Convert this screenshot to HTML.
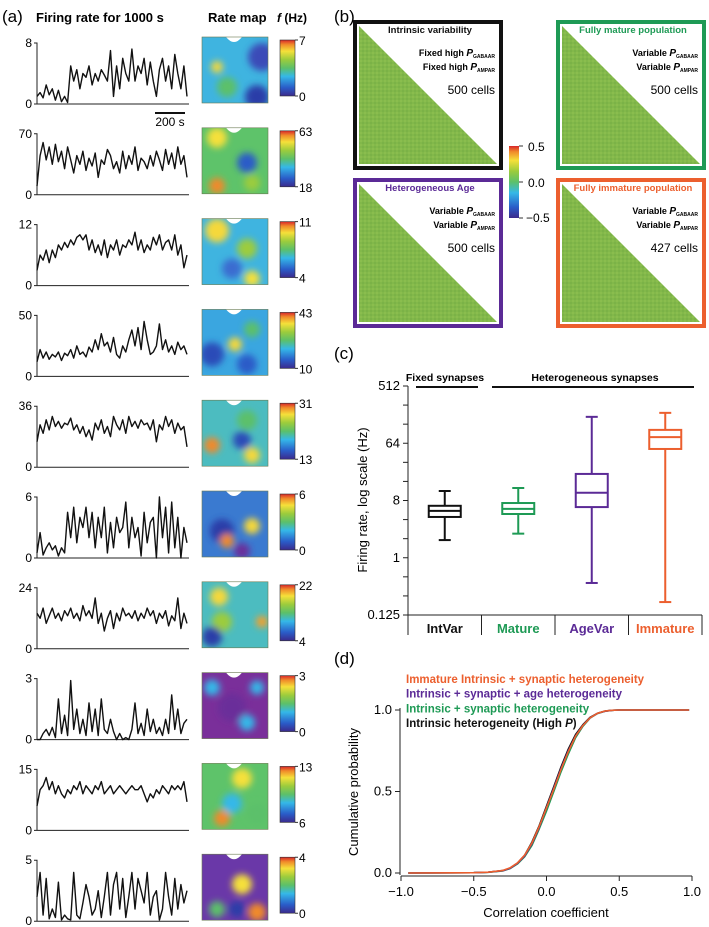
<!DOCTYPE html>
<html><head><meta charset="utf-8"><style>
html,body{margin:0;padding:0;background:#fff}
svg{display:block;font-family:"Liberation Sans",Arial,sans-serif}
</style></head><body>
<svg id="fig" width="709" height="927" viewBox="0 0 709 927" xmlns="http://www.w3.org/2000/svg">
<defs>
<linearGradient id="jet" x1="0" y1="1" x2="0" y2="0">
<stop offset="0" stop-color="#3b2a8c"/><stop offset="0.15" stop-color="#2a5cc8"/><stop offset="0.35" stop-color="#35b8e8"/><stop offset="0.5" stop-color="#5cc06a"/><stop offset="0.65" stop-color="#9ccc3c"/><stop offset="0.8" stop-color="#f5e03a"/><stop offset="0.92" stop-color="#f08a2a"/><stop offset="1" stop-color="#d8262a"/>
</linearGradient>
<filter id="blur" x="-20%" y="-20%" width="140%" height="140%"><feGaussianBlur stdDeviation="3.5"/></filter>
<pattern id="noise" width="4" height="4" patternUnits="userSpaceOnUse"><rect width="4" height="4" fill="#82b84a"/><rect width="2" height="2" fill="#8abd4e"/><rect x="2" y="2" width="2" height="2" fill="#7bb247"/></pattern>
</defs>
<g id="panelA"></g>
<g id="panelB"></g>
<g id="panelC"></g>
<g id="panelD"></g>
</svg>
<script>
// ---- Panel (a) data ----
const traceMax = [8,70,12,50,36,6,24,3,15,5];
const mapMin = [0,18,4,10,13,0,4,0,6,0];
const mapMax = [7,63,11,43,31,6,22,3,13,4];
const r1 = [1,1.5,0.8,2.5,1.2,2,0.5,1.8,0.3,1,0.2,5,3,4.5,2,4,3.5,5,2.5,4,3,4.5,3.8,3,7,1,5,2,6,4,3,7.2,3,5,4,6,2.5,5.5,3,1,4.5,6,3,5,2,6.5,4,2,5,1];
const r2 = [10,45,60,40,55,35,58,38,50,30,55,40,25,45,35,50,28,42,33,48,20,40,35,52,45,30,38,25,50,30,45,35,55,28,42,38,30,45,33,50,40,28,52,35,48,30,55,35,45,20];
const r3 = [3,6,5,7,4.5,7,5.5,8,7,8.5,7.5,9,8,9.5,10,9,10,7,9,6.5,8,6,9,5.5,8,7,9,6,8,7.5,9,8,10.5,7,9,6.5,8,7,9.5,8,10,7,8.5,9,7,10,6,8,3.5,6];
const r4 = [12,22,15,20,14,18,16,20,13,19,17,22,15,25,18,20,16,24,20,30,22,35,25,28,20,32,18,15,25,20,30,38,25,40,22,45,30,18,20,25,43,22,30,20,25,18,28,22,25,18];
const r5 = [15,25,20,28,22,30,24,27,23,26,25,29,22,25,20,24,18,22,16,26,22,28,20,24,18,30,25,22,28,20,30,24,27,23,28,25,26,22,28,15,25,22,30,24,28,20,26,22,24,12];
const r6 = [0.5,2.5,0.3,1,1.5,0.8,1.2,0.2,1,0.5,4.5,2,5,1.5,4,3,5,2,4.5,1,4,2,5,0.5,3.5,1,4,2.5,3,5.5,1,4,2,3,0.2,4.5,1.5,3.5,4,0,6,2,5,0.5,5.5,1,4,0,3,1.5];
const r7 = [14,12,16,10,13,16,12,14,11,15,13,16,12,14,11,17,13,15,12,20,10,14,7,12,15,8,14,11,16,13,14,12,15,11,14,12,16,13,15,10,14,12,15,9,13,11,20,8,14,10];
const r8 = [0,0,0.3,0.5,0.2,0.6,0.1,2,0.3,1.2,0.2,2.9,0.5,1.5,0.3,1,0.2,1.8,0.4,1.5,0.2,2,0.5,0.3,1,0.4,0,0.3,0,0.1,0,0.5,1.8,0.3,0.8,0.2,1.5,0.4,1,0.3,0.6,0.2,1,0.3,2.2,0.5,1.5,0.3,0.8,1];
const r9 = [6,10,11,13,10,12,9,11,9,8,10,9,11,10,12,9,11,10,9,11,10,12,9,10,11,9,10,11,10,9,10,11,10,10,11,9,7,9,8,10,9,11,10,9,11,10,11,10,12,7];
const r10 = [2,4,0.5,3.5,0.2,1,0.3,3.2,0.1,0.5,0.2,0.1,4,0.5,0.2,1.5,3,2,0.5,1,2.5,0.3,2,4,0.5,3,4,1,3.5,0.3,2,4,1,3.5,2.5,1.5,4,0.5,2,2.5,0.1,1,4,2,0.5,3.5,1,3,1.5,2.5];
const traces = [r1,r2,r3,r4,r5,r6,r7,r8,r9,r10];
const mapBase = ["#3fb4e0","#5ec36a","#3fb4e0","#3aa6e0","#4cbcc0","#3a7ad0","#4cbcc0","#7a2f9a","#5ec36a","#6a38a8"];
const mapBlobs = [
 [[60,20,14,"#3a4cb8"],[55,60,12,"#2a3ca8"],[15,30,6,"#f5d83a"],[25,50,10,"#5cc06a"]],
 [[15,10,10,"#f5e03a"],[45,35,10,"#2a5cc8"],[15,58,8,"#f08a2a"],[50,55,8,"#9ccc3c"]],
 [[15,12,12,"#f5d83a"],[45,30,10,"#9ccc3c"],[50,60,8,"#f5e03a"],[30,50,10,"#3a6cd0"]],
 [[10,45,12,"#2a4cb8"],[33,35,7,"#f5d83a"],[45,55,10,"#2a5cc8"],[50,20,8,"#5cc06a"]],
 [[10,45,8,"#f08a2a"],[40,40,9,"#2a4cb8"],[50,55,8,"#f5d83a"],[45,20,10,"#5cc06a"]],
 [[20,40,12,"#2a3ca8"],[50,35,8,"#f5d83a"],[25,50,7,"#f08a2a"],[40,60,8,"#6a2f9a"]],
 [[17,15,9,"#f5d83a"],[20,40,10,"#9ccc3c"],[10,55,10,"#2a3ca8"],[60,40,6,"#f5a02a"]],
 [[10,15,8,"#35b8e8"],[45,50,8,"#35b8e8"],[55,15,7,"#35b8e8"],[30,35,14,"#6a2f9a"]],
 [[40,15,10,"#f5e03a"],[20,55,8,"#f08a2a"],[30,40,10,"#35b8e8"],[55,50,10,"#5cc06a"]],
 [[40,30,10,"#f5e03a"],[15,55,8,"#5cc06a"],[55,58,9,"#f08a2a"],[35,55,8,"#2a3ca8"]]
];

// ---- Panel (c) data ----
const boxCats = ["IntVar","Mature","AgeVar","Immature"];
const boxColors = ["#111111","#1e9a55","#5b2a96","#ec5f2e"];
const boxWLo = [1.9,2.4,0.4,0.2];
const boxQ1 = [4.4,4.9,6.3,52];
const boxMed = [5.5,5.9,10.6,80];
const boxQ3 = [6.6,7.3,21,104];
const boxWHi = [11.3,12.6,167,193];
const cTickVals = [0.125,1,8,64,512];
const cTickLabels = ["0.125","1","8","64","512"];

// ---- Panel (d) data ----
const cdfX = [-0.95,-0.5,-0.4,-0.3,-0.25,-0.2,-0.15,-0.1,-0.05,0,0.05,0.1,0.15,0.2,0.25,0.3,0.35,0.4,0.45,0.5,0.98];
const cdfBlack = [0,0.002,0.005,0.015,0.03,0.06,0.11,0.19,0.29,0.41,0.53,0.65,0.76,0.85,0.91,0.955,0.98,0.993,0.998,1,1];
const cdfGreen = [0,0.002,0.004,0.013,0.027,0.055,0.1,0.17,0.27,0.38,0.5,0.62,0.73,0.83,0.9,0.95,0.978,0.992,0.998,1,1];
const cdfPurple = [0,0.002,0.005,0.014,0.029,0.058,0.105,0.18,0.28,0.4,0.52,0.64,0.75,0.84,0.905,0.952,0.979,0.992,0.998,1,1];
const cdfOrange = [0,0.002,0.005,0.016,0.032,0.062,0.11,0.185,0.285,0.4,0.515,0.635,0.745,0.84,0.905,0.952,0.98,0.993,0.998,1,1];
const dTicksX = [-1,-0.5,0,0.5,1];
const dTickXLabels = ["\u22121.0","\u22120.5","0.0","0.5","1.0"];
const dTicksY = [0,0.5,1];
const dTickYLabels = ["0.0","0.5","1.0"];

const NS = "http://www.w3.org/2000/svg";
function mk(tag, attrs, parent, txt){
  const e = document.createElementNS(NS, tag);
  for (const k in attrs) e.setAttribute(k, attrs[k]);
  if (txt !== undefined) e.textContent = txt;
  parent.appendChild(e); return e;
}

// ===== Panel A =====
const A = document.getElementById('panelA');
let t = mk('text',{x:2,y:22,'font-size':17},A,'(a)');
 
t = mk('text',{x:36,y:22,'font-size':13,'font-weight':'bold'},A,'Firing rate for 1000 s');
 
t = mk('text',{x:208,y:22,'font-size':13,'font-weight':'bold'},A,'Rate map');
 
t = mk('text',{x:277,y:22,'font-size':12,'font-weight':'bold'},A,'');
 
mk('tspan',{'font-style':'italic'},t,'f');
mk('tspan',{},t,' (Hz)');

const x0 = 37, x1 = 187;
for (let i=0;i<10;i++){
  const zero = 104 + i*90.8, top = zero-61;
  const g = mk('g',{},A);
  
  
  const ys = v => zero - v/traceMax[i]*(zero-top);
  const xs = k => x0 + k/(traces[i].length-1)*(x1-x0);
  const ax = mk('path',{d:`M${x0-3},${top}H${x0}V${zero}H${x1+2}M${x0-3},${zero}H${x0}`,stroke:'#222',fill:'none','stroke-width':1},g);
   
  let tl = mk('text',{x:x0-5,y:top+4,'font-size':12,'text-anchor':'end'},g,String(traceMax[i]));
   
  tl = mk('text',{x:x0-5,y:zero+4,'font-size':12,'text-anchor':'end'},g,'0');
   
  let d = '';
  traces[i].forEach((v,k)=>{ d += (k?'L':'M') + xs(k).toFixed(1)+','+ys(v).toFixed(1); });
  const ln = mk('path',{d:d,stroke:'#111',fill:'none','stroke-width':1.4,'stroke-linejoin':'round'},g);
   
  const mx = 202, my = zero-67;
  const mg = mk('g',{},g);
   
  const cp = mk('clipPath',{id:'cp'+i},mg);
  mk('rect',{x:mx,y:my,width:66,height:66},cp);
  mk('rect',{x:mx,y:my,width:66,height:66,fill:mapBase[i]},mg);
  const bg = mk('g',{'clip-path':`url(#cp${i})`,filter:'url(#blur)'},mg);
  mapBlobs[i].forEach(b=>mk('circle',{cx:mx+b[0],cy:my+b[1],r:b[2],fill:b[3]},bg));
  mk('path',{d:`M${mx+24},${my}q8,10 16,0z`,fill:'#fff'},mg);
  mk('rect',{x:mx,y:my,width:66,height:66,fill:'none',stroke:'#6a7a50','stroke-width':0.6},mg);
  const cb = mk('g',{},g);
   
  mk('rect',{x:280,y:zero-64,width:15,height:56,fill:'url(#jet)',stroke:'#333','stroke-width':0.6},cb);
  mk('path',{d:`M295,${zero-64}h3M295,${zero-8}h3`,stroke:'#333'},cb);
  let cl = mk('text',{x:299,y:zero-59,'font-size':12},cb,String(mapMax[i]));
   
  cl = mk('text',{x:299,y:zero-3,'font-size':12},cb,String(mapMin[i]));
   
}
const sb = mk('g',{},A);
 
mk('line',{x1:155,x2:185,y1:113,y2:113,stroke:'#111','stroke-width':2},sb);
mk('text',{x:170,y:126,'font-size':12,'text-anchor':'middle'},sb,'200 s');

// ===== Panel B =====
const B = document.getElementById('panelB');
t = mk('text',{x:334,y:22,'font-size':17},B,'(b)');
 
const mats = [
 {x:353,y:20,c:'#111',title:'Intrinsic variability',tc:'#111',l1:'Fixed high ',l2:'Fixed high ',n:'500 cells',name:'intrinsic-variability-matrix'},
 {x:556,y:20,c:'#1e9a55',title:'Fully mature population',tc:'#1e9a55',l1:'Variable ',l2:'Variable ',n:'500 cells',name:'fully-mature-matrix'},
 {x:353,y:178,c:'#5b2a96',title:'Heterogeneous Age',tc:'#5b2a96',l1:'Variable ',l2:'Variable ',n:'500 cells',name:'heterogeneous-age-matrix'},
 {x:556,y:178,c:'#ec5f2e',title:'Fully immature population',tc:'#ec5f2e',l1:'Variable ',l2:'Variable ',n:'427 cells',name:'fully-immature-matrix'}
];
mats.forEach(m=>{
  const g = mk('g',{},B);
   
  const w=150,h=150;
  mk('rect',{x:m.x+2,y:m.y+2,width:w-4,height:h-4,fill:'#fff',stroke:m.c,'stroke-width':4},g);
  mk('path',{d:`M${m.x+6},${m.y+6}L${m.x+w-6},${m.y+h-6}H${m.x+6}Z`,fill:'url(#noise)'},g);
  const rx = m.x+w-8;
  mk('text',{x:m.x+w/2+2,y:m.y+13,'font-size':9.5,'font-weight':'bold',fill:m.tc,'text-anchor':'middle'},g,m.title);
  const a = mk('text',{x:rx,y:m.y+36,'font-size':9,'font-weight':'bold','text-anchor':'end'},g,m.l1);
  mk('tspan',{'font-style':'italic','font-size':10},a,'P');
  mk('tspan',{'font-size':5,dy:2},a,'GABAAR');
  const b2 = mk('text',{x:rx,y:m.y+50,'font-size':9,'font-weight':'bold','text-anchor':'end'},g,m.l2);
  mk('tspan',{'font-style':'italic','font-size':10},b2,'P');
  mk('tspan',{'font-size':5,dy:2},b2,'AMPAR');
  mk('text',{x:rx,y:m.y+74,'font-size':12,'text-anchor':'end'},g,m.n);
});
const bcb = mk('g',{},B);
 
mk('rect',{x:509,y:146,width:10,height:72,fill:'url(#jet)'},bcb);
mk('path',{d:'M519,146h4M519,182h4M519,218h4',stroke:'#333'},bcb);
mk('text',{x:528,y:151,'font-size':12},bcb,'0.5');
mk('text',{x:528,y:187,'font-size':12},bcb,'0.0');
mk('text',{x:526,y:222,'font-size':12},bcb,'\u22120.5');

// ===== Panel C =====
const C = document.getElementById('panelC');
t = mk('text',{x:334,y:359,'font-size':17},C,'(c)');
 
const cL=408, cR=702, cTop=386, cBot=615;
const cy = v => cBot - (Math.log2(v)+3)/12*(cBot-cTop);
const catW = (cR-cL)/boxCats.length;
const cx = i => cL + catW*(i+0.5);
const cax = mk('g',{},C);
 
mk('line',{x1:cL,x2:cL,y1:cTop,y2:cBot,stroke:'#222'},cax);
for (let k=-3;k<=9;k++){ const yy=cy(Math.pow(2,k)); mk('line',{x1:cL-5,x2:cL,y1:yy,y2:yy,stroke:'#222'},cax); }
cTickVals.forEach((v,k)=>{ const tt=mk('text',{x:cL-8,y:cy(v)+4,'font-size':13,'text-anchor':'end'},cax,cTickLabels[k]);
    });
t = mk('text',{x:0,y:0,'font-size':13,'text-anchor':'middle',transform:'translate(367,500) rotate(-90)'},C,'Firing rate, log scale (Hz)');
 
const xax = mk('g',{},C);
 
mk('line',{x1:cL,x2:cR,y1:cBot,y2:cBot,stroke:'#222'},xax);
for (let i=0;i<=boxCats.length;i++) mk('line',{x1:cL+catW*i,x2:cL+catW*i,y1:cBot,y2:cBot+20,stroke:'#222'},xax);
boxCats.forEach((c,i)=>{ const tt=mk('text',{x:cx(i),y:cBot+18,'font-size':13,'font-weight':'bold','text-anchor':'middle',fill:boxColors[i]},xax,c);
    });
boxCats.forEach((c,i)=>{
  const g = mk('g',{stroke:boxColors[i],'stroke-width':2,fill:'none'},C);
   
  const X=cx(i), hw=16;
  mk('line',{x1:X,x2:X,y1:cy(boxWHi[i]),y2:cy(boxQ3[i])},g);
  mk('line',{x1:X,x2:X,y1:cy(boxQ1[i]),y2:cy(boxWLo[i])},g);
  mk('line',{x1:X-6,x2:X+6,y1:cy(boxWHi[i]),y2:cy(boxWHi[i])},g);
  mk('line',{x1:X-6,x2:X+6,y1:cy(boxWLo[i]),y2:cy(boxWLo[i])},g);
  mk('rect',{x:X-hw,y:cy(boxQ3[i]),width:2*hw,height:cy(boxQ1[i])-cy(boxQ3[i])},g);
  mk('line',{x1:X-hw,x2:X+hw,y1:cy(boxMed[i]),y2:cy(boxMed[i])},g);
});
const grp = mk('g',{},C);
 
mk('text',{x:445,y:381,'font-size':10.5,'font-weight':'bold','text-anchor':'middle'},grp,'Fixed synapses');
mk('line',{x1:416,x2:478,y1:387,y2:387,stroke:'#111','stroke-width':2},grp);
mk('text',{x:595,y:381,'font-size':10.5,'font-weight':'bold','text-anchor':'middle'},grp,'Heterogeneous synapses');
mk('line',{x1:492,x2:694,y1:387,y2:387,stroke:'#111','stroke-width':2},grp);

// ===== Panel D =====
const D = document.getElementById('panelD');
t = mk('text',{x:334,y:664,'font-size':17},D,'(d)');
 
const dX0=401, dX1=692, dY0=873, dY1=710;
const dx = v => dX0 + (v+1)/2*(dX1-dX0);
const dy = v => dY0 - v*(dY0-dY1);
const dyax = mk('g',{},D);
 
mk('line',{x1:400,x2:400,y1:dy(1)-2,y2:dY0+2,stroke:'#222'},dyax);
dTicksY.forEach((v,k)=>{ mk('line',{x1:395,x2:400,y1:dy(v),y2:dy(v),stroke:'#222'},dyax);
  const tt=mk('text',{x:392,y:dy(v)+4,'font-size':13,'text-anchor':'end'},dyax,dTickYLabels[k]);
    });
const dxax = mk('g',{},D);
 
mk('line',{x1:dx(-1),x2:dx(1),y1:876,y2:876,stroke:'#222'},dxax);
dTicksX.forEach((v,k)=>{ mk('line',{x1:dx(v),x2:dx(v),y1:876,y2:881,stroke:'#222'},dxax);
  const tt=mk('text',{x:dx(v),y:896,'font-size':13,'text-anchor':'middle'},dxax,dTickXLabels[k]);
    });
t = mk('text',{x:546,y:917,'font-size':13,'text-anchor':'middle'},D,'Correlation coefficient');
 
t = mk('text',{x:0,y:0,'font-size':13,'text-anchor':'middle',transform:'translate(358,792) rotate(-90)'},D,'Cumulative probability');
 
const series = [[cdfBlack,'#111','cdf-intrinsic'],[cdfGreen,'#1e9a55','cdf-intrinsic-synaptic'],[cdfPurple,'#5b2a96','cdf-age'],[cdfOrange,'#ec5f2e','cdf-immature']];
series.forEach(s=>{
  let d='';
  cdfX.forEach((x,k)=>{ d+=(k?'L':'M')+dx(x).toFixed(1)+','+dy(s[0][k]).toFixed(1); });
  const p = mk('path',{d:d,stroke:s[1],fill:'none','stroke-width':1.6,'stroke-linejoin':'round'},D);
   
});
const leg = [['Immature Intrinsic + synaptic heterogeneity','#ec5f2e'],['Intrinsic + synaptic + age heterogeneity','#5b2a96'],['Intrinsic + synaptic heterogeneity','#1e9a55']];
leg.forEach((l,k)=>{ const tt=mk('text',{x:406,y:683+k*14.7,'font-size':11.5,'font-weight':'bold',fill:l[1]},D,l[0]);
    });
t = mk('text',{x:406,y:727,'font-size':11.5,'font-weight':'bold',fill:'#111'},D,'Intrinsic heterogeneity (High ');
 
mk('tspan',{'font-style':'italic'},t,'P');
mk('tspan',{},t,')');
</script>
</body></html>
